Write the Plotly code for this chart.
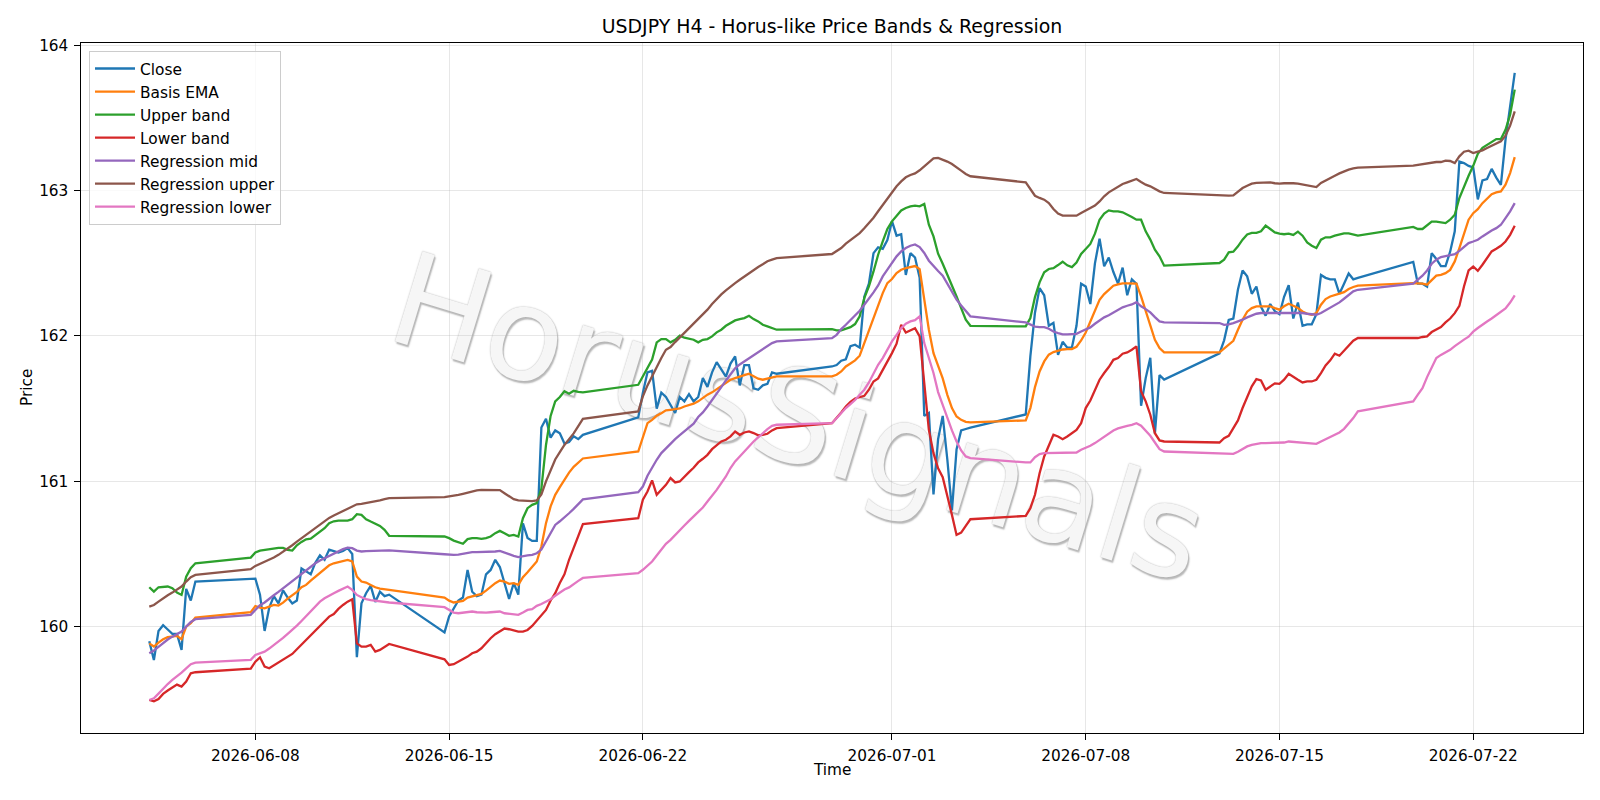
import pandas as pd
import plotly.graph_objects as go

# ---- time axis: H4 bars (Mon-Fri + Sunday 20:00 open) ----
bar_times = pd.date_range("2026-06-04 04:00", "2026-07-23 12:00", freq="4h")
bar_times = bar_times[(bar_times.dayofweek < 5) | ((bar_times.dayofweek == 6) & (bar_times.hour == 20))]

tick_dates = ["2026-06-08", "2026-06-15", "2026-06-22", "2026-07-01", "2026-07-08", "2026-07-15", "2026-07-22"]
y_ticks = [160, 161, 162, 163, 164]

close = [
    159.90, 159.77, 159.97, 160.01, 159.98,
    159.95, 159.95, 159.84, 160.26, 160.18, 160.31,
    160.33,
    160.33, 160.22, 159.97, 160.13, 160.21, 160.16,
    160.25, 160.20, 160.16, 160.18, 160.40, 160.38,
    160.36, 160.44, 160.49, 160.46, 160.53, 160.52,
    160.51, 160.52, 160.54, 160.50, 159.79, 160.16,
    160.23, 160.28, 160.17, 160.24, 160.21, 160.22,
    159.96,
    160.07, 160.13, 160.18, 160.20, 160.39, 160.24,
    160.21, 160.22, 160.36, 160.39, 160.46, 160.41,
    160.30, 160.19, 160.30, 160.22, 160.71, 160.61,
    160.59, 160.59, 161.37, 161.43, 161.30, 161.35,
    161.33, 161.26, 161.27, 161.31, 161.29, 161.32,
    161.44,
    161.61, 161.75, 161.76, 161.50, 161.61, 161.58,
    161.52, 161.47, 161.58, 161.55, 161.60, 161.55,
    161.58, 161.71, 161.65, 161.75, 161.82, 161.77,
    161.72, 161.81, 161.86, 161.66, 161.80, 161.80,
    161.64, 161.63, 161.66, 161.67, 161.75, 161.74,
    161.79,
    161.80, 161.83, 161.84, 161.93, 161.94, 161.92,
    162.27, 162.36, 162.57, 162.61, 162.60, 162.66,
    162.79, 162.69, 162.70, 162.42, 162.57, 162.54,
    162.40, 161.45, 161.47, 160.91, 161.29, 161.45,
    161.15, 160.80, 161.22, 161.35, 161.36, 161.37,
    161.46,
    161.86, 162.16, 162.33, 162.28, 162.07, 162.09,
    161.87, 161.96, 161.92, 161.92, 162.07, 162.36,
    162.34, 162.22, 162.50, 162.67, 162.48, 162.54,
    162.44, 162.36, 162.47, 162.28, 162.39, 162.36,
    161.52, 161.71, 161.85, 161.33, 161.73, 161.70,
    161.88,
    161.97, 162.11, 162.12, 162.32, 162.45, 162.41,
    162.29, 162.34, 162.20, 162.14, 162.22, 162.17,
    162.15, 162.27, 162.35, 162.12, 162.23, 162.07,
    162.08, 162.08, 162.15, 162.42, 162.40, 162.39,
    162.39, 162.29, 162.36, 162.43, 162.39, 162.40,
    162.51,
    162.36, 162.36, 162.34, 162.57, 162.53, 162.48,
    162.48, 162.58, 162.72, 163.20, 163.19, 163.17,
    163.16, 162.94, 163.07, 163.08, 163.15, 163.09,
    163.04, 163.35, 163.58, 163.81,
]

basis_ema = [
    159.885, 159.863, 159.890, 159.913, 159.927,
    159.931, 159.936, 159.913, 160.000, 160.023, 160.062,
    160.099,
    160.142, 160.131, 160.126, 160.138, 160.149, 160.145,
    160.165, 160.193, 160.216, 160.239, 160.271, 160.287,
    160.317, 160.344, 160.374, 160.400, 160.422, 160.436,
    160.445, 160.455, 160.459, 160.448, 160.344, 160.310,
    160.303, 160.287, 160.271, 160.262, 160.257, 160.253,
    160.200,
    160.179, 160.166, 160.170, 160.177, 160.200, 160.207,
    160.214, 160.225, 160.248, 160.276, 160.299, 160.317,
    160.310, 160.294, 160.299, 160.287, 160.340, 160.374,
    160.409, 160.448, 160.551, 160.712, 160.827, 160.907,
    160.960, 161.010, 161.060, 161.100, 161.130, 161.157,
    161.205,
    161.297, 161.400, 161.423, 161.451, 161.469, 161.488,
    161.492, 161.497, 161.501, 161.515, 161.524, 161.534,
    161.550, 161.573, 161.596, 161.612, 161.635, 161.658,
    161.680, 161.699, 161.710, 161.722, 161.731, 161.740,
    161.722, 161.706, 161.699, 161.706, 161.715, 161.722,
    161.722,
    161.733, 161.756, 161.790, 161.811, 161.832, 161.864,
    161.951, 162.031, 162.123, 162.204, 162.295, 162.364,
    162.392, 162.433, 162.456, 162.467, 162.474, 162.481,
    162.460, 162.238, 162.043, 161.882, 161.795, 161.708,
    161.595, 161.504, 161.446, 161.423, 161.409, 161.405,
    161.419,
    161.504, 161.648, 161.756, 161.825, 161.871, 161.889,
    161.898, 161.907, 161.910, 161.910, 161.926, 161.969,
    162.024, 162.096, 162.169, 162.249, 162.288, 162.318,
    162.346, 162.355, 162.362, 162.362, 162.360, 162.360,
    162.272, 162.169, 162.077, 161.974, 161.917, 161.887,
    161.887,
    161.912, 161.937, 161.967, 162.043, 162.112, 162.167,
    162.192, 162.204, 162.204, 162.199, 162.204, 162.192,
    162.181, 162.204, 162.222, 162.208, 162.192, 162.169,
    162.153, 162.146, 162.158, 162.215, 162.254, 162.272,
    162.284, 162.291, 162.302, 162.323, 162.337, 162.346,
    162.364,
    162.364, 162.360, 162.353, 162.387, 162.415, 162.421,
    162.432, 162.455, 162.513, 162.605, 162.708, 162.800,
    162.845, 162.873, 162.914, 162.946, 162.976, 162.988,
    162.995, 163.041, 163.121, 163.231,
]

upper_band = [
    160.271, 160.241, 160.271, 160.271, 160.276,
    160.264, 160.234, 160.218, 160.344, 160.402, 160.436,
    160.475,
    160.510, 160.523, 160.528, 160.535, 160.540, 160.542,
    160.542, 160.528, 160.523, 160.560, 160.583, 160.601,
    160.606, 160.631, 160.654, 160.677, 160.712, 160.725,
    160.730, 160.730, 160.730, 160.739, 160.774, 160.769,
    160.739, 160.723, 160.707, 160.693, 160.666, 160.625,
    160.620,
    160.609, 160.592, 160.579, 160.570, 160.602, 160.609,
    160.609, 160.604, 160.609, 160.620, 160.643, 160.659,
    160.643, 160.625, 160.631, 160.620, 160.746, 160.815,
    160.838, 160.850, 160.950, 161.250, 161.450, 161.550,
    161.580, 161.620, 161.603, 161.623, 161.615, 161.612,
    161.664,
    161.722, 161.786, 161.837, 161.956, 161.979, 161.979,
    161.956, 161.974, 162.002, 161.988, 161.979, 161.974,
    161.956, 161.974, 161.979, 161.997, 162.025, 162.043,
    162.070, 162.089, 162.107, 162.116, 162.123, 162.139,
    162.116, 162.100, 162.077, 162.066, 162.055, 162.043,
    162.047,
    162.038, 162.038, 162.047, 162.061, 162.082, 162.135,
    162.261, 162.341, 162.444, 162.559, 162.651, 162.736,
    162.789, 162.828, 162.864, 162.881, 162.892, 162.897,
    162.892, 162.908, 162.766, 162.685, 162.566, 162.497,
    162.422, 162.360, 162.272, 162.192, 162.112, 162.070,
    162.066,
    162.123, 162.268, 162.369, 162.438, 162.461, 162.467,
    162.488, 162.511, 162.486, 162.474, 162.506, 162.564,
    162.598, 162.633, 162.704, 162.800, 162.842, 162.864,
    162.858, 162.858, 162.851, 162.837, 162.819, 162.800,
    162.800, 162.720, 162.663, 162.594, 162.548, 162.484,
    162.502,
    162.525, 162.575, 162.580, 162.617, 162.663, 162.699,
    162.709, 162.709, 162.720, 162.759, 162.736, 162.713,
    162.704, 162.700, 162.704, 162.695, 162.718, 162.690,
    162.644, 162.621, 162.605, 162.663, 162.679, 162.679,
    162.690, 162.700, 162.706, 162.706, 162.700, 162.690,
    162.750,
    162.736, 162.736, 162.761, 162.787, 162.787, 162.781,
    162.777, 162.800, 162.834, 162.949, 163.029, 163.102,
    163.171, 163.254, 163.295, 163.314, 163.337, 163.355,
    163.355, 163.419, 163.522, 163.695,
]

lower_band = [
    159.495, 159.486, 159.502, 159.537, 159.560,
    159.578, 159.601, 159.587, 159.622, 159.679, 159.686,
    159.711,
    159.759, 159.789, 159.725, 159.713, 159.734, 159.750,
    159.771, 159.794, 159.812, 159.844, 159.876, 159.908,
    159.941, 159.973, 160.000, 160.035, 160.069, 160.087,
    160.122, 160.149, 160.172, 160.188, 159.885, 159.862,
    159.863, 159.874, 159.828, 159.840, 159.863, 159.881,
    159.775,
    159.736, 159.741, 159.759, 159.775, 159.794, 159.817,
    159.828, 159.851, 159.886, 159.920, 159.948, 159.966,
    159.987, 159.982, 159.973, 159.966, 159.966, 159.977,
    160.005, 160.042, 160.076, 160.115, 160.180, 160.230,
    160.300, 160.360, 160.460, 160.540, 160.620, 160.705,
    160.746,
    160.873, 160.930, 161.006, 160.907, 160.941, 160.976,
    161.022, 160.992, 160.999, 161.033, 161.063, 161.093,
    161.130, 161.155, 161.182, 161.221, 161.251, 161.274,
    161.286, 161.309, 161.343, 161.320, 161.336, 161.343,
    161.332, 161.316, 161.320, 161.327, 161.350, 161.366,
    161.400,
    161.435, 161.474, 161.515, 161.547, 161.570, 161.577,
    161.588, 161.630, 161.687, 161.708, 161.763, 161.825,
    161.882, 161.947, 162.077, 162.024, 162.038, 162.054,
    161.997, 161.664, 161.354, 161.194, 161.090, 161.028,
    160.907, 160.769, 160.631, 160.647, 160.693, 160.739,
    160.762,
    160.815, 160.907, 161.056, 161.171, 161.240, 161.320,
    161.308, 161.290, 161.308, 161.331, 161.354, 161.400,
    161.504, 161.556, 161.625, 161.699, 161.745, 161.786,
    161.836, 161.848, 161.878, 161.887, 161.905, 161.928,
    161.620, 161.550, 161.458, 161.331, 161.281, 161.274,
    161.267,
    161.297, 161.313, 161.364, 161.419, 161.504, 161.584,
    161.653, 161.703, 161.694, 161.630, 161.653, 161.674,
    161.671, 161.699, 161.740, 161.717, 161.699, 161.680,
    161.687, 161.687, 161.699, 161.745, 161.797, 161.832,
    161.878, 161.864, 161.901, 161.933, 161.967, 161.986,
    161.986,
    161.986, 161.993, 161.997, 162.027, 162.045, 162.061,
    162.093, 162.120, 162.157, 162.207, 162.341, 162.451,
    162.478, 162.448, 162.490, 162.536, 162.582, 162.600,
    162.621, 162.650, 162.696, 162.758,
]

reg_mid = [
    159.817, 159.835, 159.860, 159.886, 159.911,
    159.931, 159.950, 159.966, 160.000, 160.032, 160.051,
    160.081,
    160.115, 160.147, 160.166, 160.188, 160.216, 160.239,
    160.264, 160.287, 160.315, 160.340, 160.367, 160.390,
    160.413, 160.436, 160.455, 160.471, 160.487, 160.505,
    160.519, 160.533, 160.544, 160.540, 160.523, 160.517,
    160.519, 160.519, 160.519, 160.521, 160.521, 160.524,
    160.498,
    160.494, 160.494, 160.496, 160.503, 160.510, 160.512,
    160.512, 160.512, 160.514, 160.517, 160.517, 160.521,
    160.510, 160.494, 160.487, 160.478, 160.487, 160.491,
    160.494, 160.505, 160.530, 160.585, 160.650, 160.700,
    160.725, 160.750, 160.780, 160.810, 160.845, 160.875,
    160.925,
    160.964, 161.038, 161.098, 161.148, 161.194, 161.228,
    161.263, 161.290, 161.318, 161.343, 161.371, 161.396,
    161.442, 161.474, 161.515, 161.557, 161.607, 161.648,
    161.694, 161.738, 161.777, 161.804, 161.825, 161.846,
    161.869, 161.894, 161.912, 161.933, 161.951, 161.963,
    161.985,
    162.008, 162.047, 162.077, 162.107, 162.139, 162.174,
    162.215, 162.254, 162.300, 162.348, 162.410, 162.456,
    162.502, 162.548, 162.582, 162.605, 162.621, 162.630,
    162.612, 162.571, 162.518, 162.479, 162.447, 162.415,
    162.357, 162.300, 162.250, 162.210, 162.169, 162.135,
    162.093,
    162.080, 162.064, 162.061, 162.061, 162.050, 162.031,
    162.020, 162.011, 162.011, 162.011, 162.015, 162.031,
    162.043, 162.059, 162.084, 162.107, 162.128, 162.142,
    162.162, 162.180, 162.197, 162.208, 162.217, 162.233,
    162.204, 162.185, 162.162, 162.130, 162.100, 162.093,
    162.089,
    162.077, 162.080, 162.089, 162.100, 162.112, 162.128,
    162.142, 162.153, 162.158, 162.158, 162.158, 162.158,
    162.162, 162.162, 162.162, 162.162, 162.160, 162.158,
    162.153, 162.149, 162.146, 162.158, 162.176, 162.192,
    162.208, 162.231, 162.256, 162.284, 162.307, 162.318,
    162.360,
    162.387, 162.415, 162.451, 162.497, 162.525, 162.543,
    162.550, 162.554, 162.563, 162.586, 162.616, 162.639,
    162.650, 162.662, 162.685, 162.708, 162.726, 162.742,
    162.765, 162.811, 162.857, 162.914,
]

reg_upper = [
    160.138, 160.149, 160.172, 160.195, 160.216,
    160.234, 160.253, 160.276, 160.310, 160.340, 160.356,
    160.395,
    160.418, 160.432, 160.443, 160.459, 160.475, 160.494,
    160.514, 160.537, 160.560, 160.585, 160.608, 160.631,
    160.654, 160.677, 160.700, 160.725, 160.748, 160.764,
    160.780, 160.797, 160.813, 160.826, 160.842, 160.845,
    160.850, 160.856, 160.861, 160.868, 160.877, 160.884,
    160.891,
    160.895, 160.900, 160.907, 160.914, 160.923, 160.930,
    160.937, 160.941, 160.941, 160.941, 160.941, 160.939,
    160.918, 160.900, 160.877, 160.868, 160.866, 160.863,
    160.863, 160.868, 160.910, 161.000, 161.080, 161.150,
    161.200, 161.250, 161.290, 161.330, 161.380, 161.430,
    161.481,
    161.584, 161.660, 161.726, 161.791, 161.848, 161.905,
    161.924, 161.958, 161.990, 162.020, 162.050, 162.082,
    162.112, 162.144, 162.181, 162.220, 162.254, 162.286,
    162.314, 162.341, 162.364, 162.387, 162.410, 162.433,
    162.452, 162.475, 162.493, 162.514, 162.525, 162.536,
    162.564,
    162.582, 162.605, 162.635, 162.660, 162.685, 162.708,
    162.741, 162.775, 162.814, 162.858, 162.901, 162.949,
    162.984, 163.030, 163.064, 163.092, 163.108, 163.119,
    163.140, 163.167, 163.197, 163.222, 163.225, 163.213,
    163.200, 163.183, 163.158, 163.138, 163.115, 163.099,
    163.057,
    163.011, 162.965, 162.950, 162.938, 162.915, 162.874,
    162.842, 162.828, 162.828, 162.828, 162.828, 162.846,
    162.862, 162.878, 162.897, 162.926, 162.961, 162.988,
    163.007, 163.030, 163.046, 163.057, 163.066, 163.080,
    163.060, 163.041, 163.030, 163.011, 162.995, 162.984,
    162.966,
    162.966, 162.966, 162.968, 162.991, 163.018, 163.034,
    163.048, 163.053, 163.053, 163.055, 163.057, 163.051,
    163.048, 163.051, 163.053, 163.051, 163.048, 163.041,
    163.034, 163.028, 163.025, 163.053, 163.071, 163.087,
    163.103, 163.119, 163.133, 163.145, 163.154, 163.158,
    163.172,
    163.177, 163.181, 163.191, 163.195, 163.197, 163.197,
    163.206, 163.204, 163.190, 163.236, 163.268, 163.275,
    163.259, 163.268, 163.277, 163.293, 163.309, 163.323,
    163.339, 163.378, 163.447, 163.545,
]

reg_lower = [
    159.495, 159.507, 159.539, 159.573, 159.605,
    159.633, 159.656, 159.683, 159.713, 159.741, 159.752,
    159.771,
    159.805, 159.817, 159.828, 159.849, 159.872, 159.895,
    159.922, 159.950, 159.977, 160.007, 160.039, 160.074,
    160.108, 160.142, 160.172, 160.195, 160.214, 160.230,
    160.246, 160.260, 160.276, 160.253, 160.218, 160.202,
    160.189, 160.182, 160.177, 160.172, 160.168, 160.166,
    160.134,
    160.115, 160.097, 160.092, 160.097, 160.101, 160.104,
    160.099, 160.097, 160.097, 160.099, 160.101, 160.104,
    160.092, 160.088, 160.083, 160.081, 160.097, 160.115,
    160.120, 160.143, 160.156, 160.170, 160.189, 160.212,
    160.235, 160.255, 160.270, 160.295, 160.315, 160.335,
    160.368,
    160.391, 160.418, 160.448, 160.489, 160.533, 160.570,
    160.597, 160.632, 160.666, 160.696, 160.728, 160.758,
    160.788, 160.820, 160.861, 160.900, 160.941, 160.987,
    161.033, 161.091, 161.137, 161.171, 161.205, 161.244,
    161.274, 161.302, 161.332, 161.359, 161.382, 161.389,
    161.400,
    161.435, 161.469, 161.504, 161.531, 161.559, 161.595,
    161.630, 161.680, 161.745, 161.802, 161.848, 161.910,
    161.963, 162.008, 162.054, 162.084, 162.100, 162.109,
    162.135, 161.951, 161.848, 161.745, 161.614, 161.526,
    161.423, 161.350, 161.274, 161.212, 161.171, 161.159,
    161.130,
    161.130, 161.166, 161.187, 161.194, 161.194, 161.194,
    161.194, 161.194, 161.194, 161.194, 161.198, 161.217,
    161.228, 161.244, 161.263, 161.286, 161.309, 161.327,
    161.350, 161.364, 161.375, 161.382, 161.389, 161.400,
    161.382, 161.347, 161.313, 161.267, 161.221, 161.205,
    161.194,
    161.189, 161.189, 161.189, 161.203, 161.221, 161.240,
    161.251, 161.258, 161.263, 161.263, 161.263, 161.263,
    161.263, 161.267, 161.274, 161.272, 161.267, 161.263,
    161.263, 161.260, 161.258, 161.274, 161.290, 161.304,
    161.320, 161.336, 161.361, 161.396, 161.435, 161.481,
    161.550,
    161.596, 161.641, 161.717, 161.786, 161.848, 161.870,
    161.885, 161.905, 161.930, 161.955, 161.975, 161.995,
    162.030, 162.055, 162.080, 162.100, 162.120, 162.145,
    162.165, 162.190, 162.230, 162.280,
]

series = [
    ("Close", close, "#1f77b4"),
    ("Basis EMA", basis_ema, "#ff7f0e"),
    ("Upper band", upper_band, "#2ca02c"),
    ("Lower band", lower_band, "#d62728"),
    ("Regression mid", reg_mid, "#9467bd"),
    ("Regression upper", reg_upper, "#8c564b"),
    ("Regression lower", reg_lower, "#e377c2"),
]

fig = go.Figure()
for name, vals, col in series:
    fig.add_trace(go.Scatter(x=bar_times, y=vals, mode="lines", name=name,
                             line=dict(color=col, width=2.3)))

W, H = 1600, 800
L, R, T, B = 81, 17, 43, 67
pw, ph = W - L - R, H - T - B

span = bar_times[-1] - bar_times[0]
x_range = [bar_times[0] - span * 0.05, bar_times[-1] + span * 0.05]

font_family = "DejaVu Sans"
grid_col = "rgba(176,176,176,0.3)"
tick_fs = 15.3

fig.update_layout(
    width=W, height=H,
    margin=dict(l=L, r=R, t=T, b=B, autoexpand=False),
    paper_bgcolor="white", plot_bgcolor="white",
    font=dict(family=font_family, size=tick_fs, color="black"),
    title=dict(text="USDJPY H4 - Horus-like Price Bands & Regression",
               x=0.5, xanchor="center", xref="paper",
               y=1 - 26 / H, yanchor="middle", yref="container",
               font=dict(size=18.9, color="black", family=font_family)),
    showlegend=True,
    legend=dict(x=(89 - L) / pw, y=1 - (51 - T) / ph, xanchor="left", yanchor="top",
                bgcolor="rgba(255,255,255,0.8)", bordercolor="#cccccc", borderwidth=1,
                font=dict(size=15.4, color="black", family=font_family),
                itemwidth=40, tracegroupgap=0),
    xaxis=dict(type="date", range=x_range, tickvals=tick_dates, ticktext=tick_dates,
               showgrid=True, gridcolor=grid_col, gridwidth=1.2,
               showline=True, linecolor="black", linewidth=1.2, mirror=True,
               ticks="outside", ticklen=5.5, tickwidth=1.2, tickcolor="black",
               tickfont=dict(size=tick_fs, color="black"), zeroline=False, automargin=False,
               ticklabelstandoff=3),
    yaxis=dict(range=[159.268, 164.016], tickvals=y_ticks, ticktext=[str(v) for v in y_ticks],
               showgrid=True, gridcolor=grid_col, gridwidth=1.2,
               showline=True, linecolor="black", linewidth=1.2, mirror=True,
               ticks="outside", ticklen=5.5, tickwidth=1.2, tickcolor="black",
               tickfont=dict(size=tick_fs, color="black"), zeroline=False, automargin=False,
               ticklabelstandoff=3),
)

# axis labels
fig.add_annotation(text="Time", xref="paper", yref="paper", x=0.5, y=-(770 - (T + ph)) / ph,
                   xanchor="center", yanchor="middle", showarrow=False,
                   font=dict(size=tick_fs, color="black", family=font_family))
fig.add_annotation(text="Price", xref="paper", yref="paper", x=-(L - 27) / pw, y=0.5,
                   xanchor="center", yanchor="middle", showarrow=False, textangle=-90,
                   font=dict(size=tick_fs, color="black", family=font_family))

# watermark (drawn beneath the traces)
wx, wy = (801 - L) / pw, 1 - (409 - T) / ph
fig.add_shape(type="rect", xref="paper", yref="paper",
              x0=wx - 0.01, x1=wx + 0.01, y0=wy - 0.01, y1=wy + 0.01,
              line=dict(width=0), fillcolor="rgba(0,0,0,0)", layer="between",
              label=dict(text="HorusSignals", textangle=17, textposition="middle center",
                         font=dict(size=129, color="#f6f6f6", family=font_family,
                                   shadow="0px 0px 1.5px #a8a8a8, 2px 2px 1.5px rgba(0,0,0,0.28)")))

fig.write_html("out.html")
